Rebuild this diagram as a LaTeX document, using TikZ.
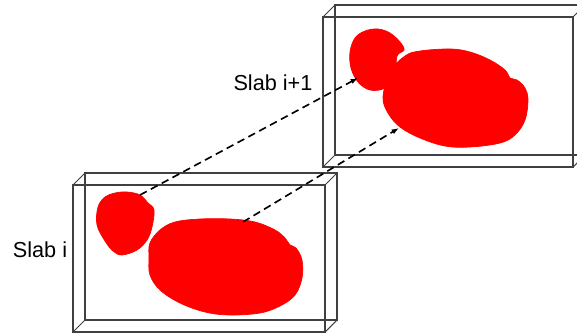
\documentclass[tikz,border=0pt]{standalone}
\usepackage{fontspec}
\setmainfont{Liberation Sans}
\usetikzlibrary{arrows.meta}
\tikzset{>={Latex[length=2.2mm,width=1.6mm]}}
\tikzset{
  slabline/.style={draw=black!75, line width=.9pt},
  blob/.style={fill=red, draw=red, line width=.6pt},
  track/.style={->, dash pattern=on 6.5pt off 4pt, line width=1.4pt},
  slablabel/.style={font=\fontsize{18.5}{20}\selectfont}
}

\begin{document}
\begin{tikzpicture}[x=.03cm, y=-.03cm]
      \useasboundingbox (0,0) rectangle (577,333);
      \begin{scope}
      \clip (0,0) rectangle (577,333);
      % slab i
      \draw[slabline] (73,185) rectangle (325,332);
      \draw[slabline] (85,173) rectangle (337,320);
      \foreach \x/\y in {73/185, 325/185, 73/332, 325/332}
        \draw[slabline] (\x,\y) -- ++(12,-12);
      % slab i+1
      \draw[slabline] (323,17) rectangle (573,167);
      \draw[slabline] (335,5) rectangle (585,155);
      \foreach \x/\y in {323/17, 573/17, 323/167, 573/167}
        \draw[slabline] (\x,\y) -- ++(12,-12);
      \end{scope}
      % blobs in slab i
      \draw[blob] plot[smooth cycle, tension=.6] coordinates {(105,197) (115,193) (127,192) (140,195) (148,203) (154,210) (152,227) (147,240) (137,250) (122,255) (113,251) (105,241) (97,225) (98,207)};
      \draw[blob] plot[smooth cycle, tension=.6] coordinates {(150,243) (160,230) (175,222) (200,219) (230,219) (255,222) (275,230) (285,238) (290,245) (296,248) (302,260) (302,278) (295,295) (280,306) (260,313) (230,315) (205,312) (180,303) (160,290) (150,275) (149,258)};
      % blobs in slab i+1
      \draw[blob] plot[smooth cycle, tension=.6] coordinates {(383,97) (390,72) (405,56) (420,51) (450,49) (470,52) (490,60) (505,70) (510,78) (517,80) (525,88) (528,100) (525,120) (515,135) (500,143) (470,147) (445,146) (420,138) (400,127) (388,113)};
      \draw[blob] plot[smooth cycle, tension=.6] coordinates {(350,52) (355,38) (365,31) (378,29) (390,33) (400,42) (404,50) (397,56) (395,75) (385,88) (370,90) (358,82) (351,68)};
      % labels
      \node[slablabel] (lab1) at (273,83) {Slab i+1};
      \node[slablabel] (lab0) at (40,250) {Slab i};
      % tracking
      \coordinate (s0) at (140,195);
      \coordinate (s1) at (358,78);
      \coordinate (b0) at (243,222);
      \coordinate (b1) at (399,128);
      \draw[track] (s0) -- (s1);
      \draw[track] (b0) -- (b1);
\end{tikzpicture}
\end{document}
